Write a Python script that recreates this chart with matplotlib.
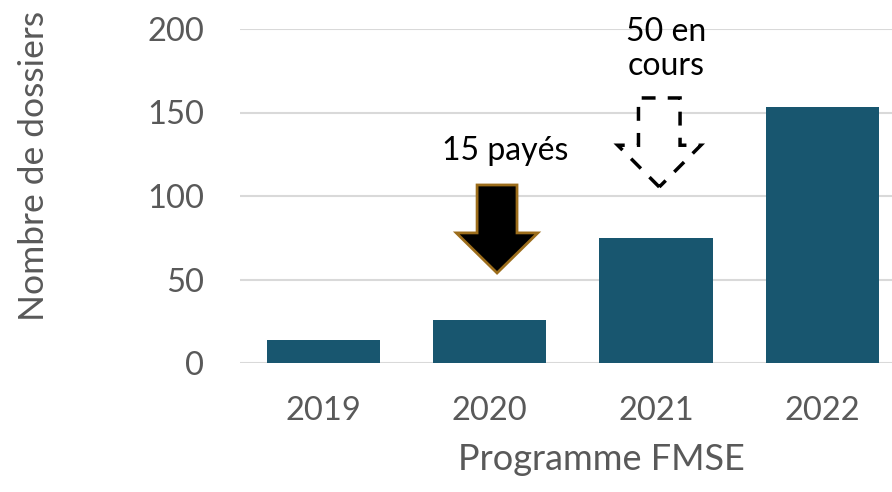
import matplotlib
matplotlib.use("Agg")
import matplotlib.pyplot as plt
from matplotlib.patches import FancyArrow

plt.rcParams['font.family'] = ['Lato', 'DejaVu Sans']

# Data
years = ['2019', '2020', '2021', '2022']
dossiers = [14, 26, 75, 153]
yticks = [0, 50, 100, 150, 200]

bar_color = '#18566f'
grey = '#595959'

fig = plt.figure(figsize=(8.92, 4.92), dpi=100)
ax = fig.add_axes([240 / 892, 129 / 492, 665.5 / 892, 334 / 492])

x = range(len(years))
ax.bar(x, dossiers, width=0.68, color=bar_color, zorder=3)

ax.set_xlim(-0.5, 3.5)
ax.set_ylim(0, 200)
ax.set_yticks(yticks)
ax.set_xticks(list(x))
ax.set_xticklabels(years)
ax.grid(axis='y', color='#d9d9d9', linewidth=1.5, zorder=0)
for s in ax.spines.values():
    s.set_visible(False)
ax.tick_params(length=0, labelsize=23.5, labelcolor=grey)
ax.tick_params(axis='y', pad=26)
ax.tick_params(axis='x', pad=24)

fig.text(34 / 892, 1 - 166 / 492, 'Nombre de dossiers', rotation=90,
         ha='center', va='center', fontsize=25.5, color=grey)
fig.text(601 / 892, 1 - 460 / 492, 'Programme FMSE',
         ha='center', va='center', fontsize=26, color=grey)

# Annotations: paid (solid arrow) and ongoing (dashed arrow)
paid = FancyArrow(1.045, 106.6, 0, -52.7, width=0.24, head_width=0.49,
                  head_length=24, length_includes_head=True,
                  facecolor='black', edgecolor='#9c6d1b', linewidth=2, zorder=4)
ax.add_patch(paid)
ax.text(1.094, 127, '15 payés', ha='center', va='center', fontsize=23,
        color='black')

ongoing = FancyArrow(2.02, 158.7, 0, -53.3, width=0.25, head_width=0.5,
                     head_length=25, length_includes_head=True,
                     facecolor='white', edgecolor='black', linewidth=2.5,
                     linestyle=(0, (4, 3.5)), zorder=4)
ax.add_patch(ongoing)
ax.text(2.06, 188, '50 en\ncours', ha='center', va='center', fontsize=23,
        color='black', linespacing=1.2, clip_on=False)

fig.savefig('out.png', dpi=100)
